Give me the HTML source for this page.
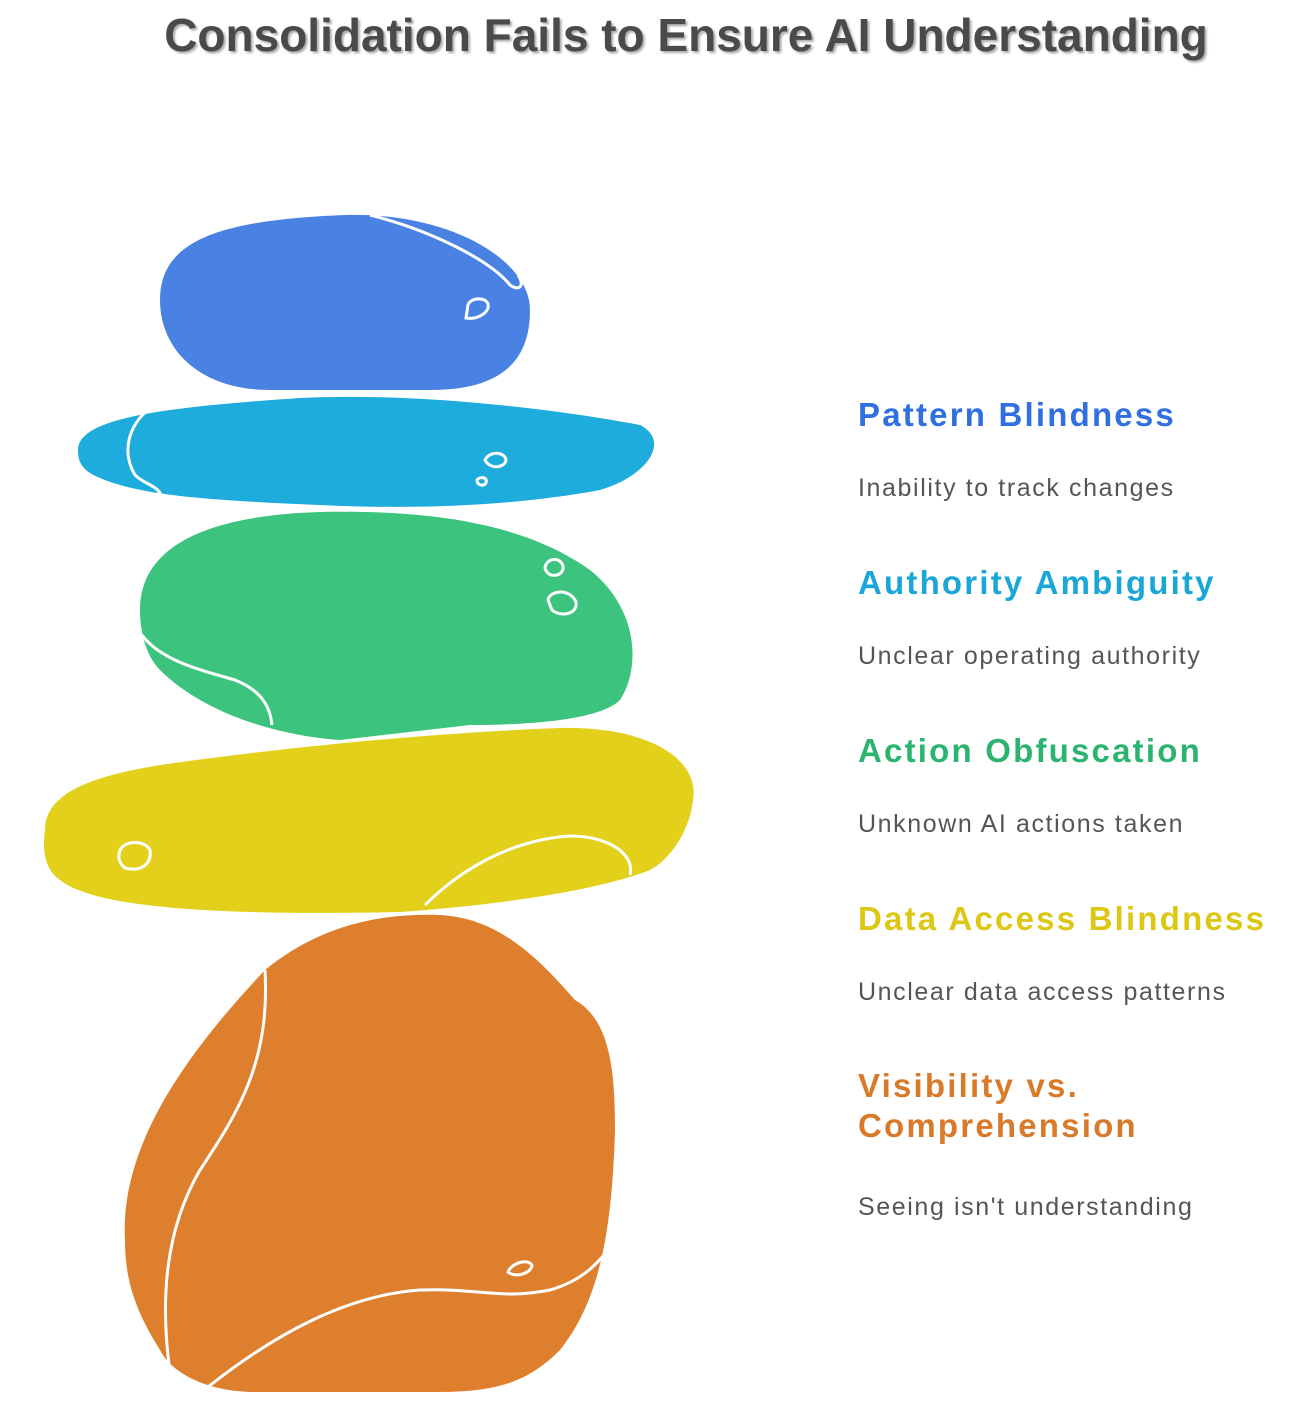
<!DOCTYPE html>
<html><head><meta charset="utf-8"><style>
body{margin:0;width:1314px;height:1422px;background:#fff;position:relative;font-family:"Liberation Sans",sans-serif;overflow:hidden}
.t{position:absolute;left:0;width:1314px;top:8px;text-align:center;font-size:46px;font-weight:bold;color:#4a4a4a;text-shadow:2px 2px 2px #aaa;padding-left:58px;box-sizing:border-box}
.h{position:absolute;left:858px;font-size:33px;font-weight:bold;line-height:40px;letter-spacing:2.2px;white-space:nowrap}
.d{position:absolute;left:858px;font-size:25px;color:#555;letter-spacing:1.6px;white-space:nowrap}
</style></head><body>
<div class="t">Consolidation Fails to Ensure AI Understanding</div>
<svg width="1314" height="1422" style="position:absolute;left:0;top:0">
<g stroke="#fff" stroke-width="3" fill="none">
<path fill="#4a82e4" stroke="none" d="M160,300 C160,240 220,220 345,215 C450,212 530,260 530,310 C530,370 490,390 430,390 L270,390 C200,390 160,350 160,300 Z"/>
<path d="M370,215 C430,230 490,260 510,285 C520,292 525,285 518,275"/>
<path d="M468,305 C470,298 485,296 488,304 C490,312 478,320 466,318 Z"/>
<path fill="#1eacdc" stroke="none" d="M78,450 C78,420 150,408 300,398 C420,392 560,410 640,425 C670,440 650,475 600,490 C520,505 420,510 320,505 C200,500 140,495 100,478 C80,470 78,460 78,450Z"/>
<path d="M155,405 C130,420 120,450 135,475 C145,485 158,485 162,497"/>
<path d="M485,460 C490,450 505,452 506,460 C505,468 490,470 485,460Z M477,480 C480,476 488,477 486,483 C483,487 477,485 477,480Z"/>
<path fill="#3cc47f" stroke="none" d="M140,610 C140,540 220,515 320,512 C420,510 520,520 590,570 C640,610 640,670 620,700 C600,720 530,725 470,725 L340,740 C270,735 200,710 160,670 C145,655 140,630 140,610Z"/>
<path d="M142,635 C160,660 200,670 235,680 C260,690 270,705 272,725"/>
<path d="M545,568 C546,558 560,556 563,566 C565,576 548,580 545,568Z M548,600 C550,590 570,588 576,602 C578,615 560,617 552,610Z"/>
<path fill="#e3d01a" stroke="none" d="M45,830 C45,790 100,775 160,765 C300,745 450,732 560,728 C650,726 700,760 693,800 C690,830 670,860 650,870 C600,890 500,905 400,912 C250,915 100,912 60,880 C45,870 42,850 45,830Z"/>
<path d="M425,905 C460,870 510,840 570,836 C610,836 635,855 630,875"/>
<path d="M120,850 C125,840 145,840 150,850 C152,865 140,872 125,868 C118,862 118,856 120,850Z"/>
<path fill="#de7f2e" stroke="none" d="M125,1240 C120,1150 180,1060 265,970 C320,925 380,913 440,915 C500,918 540,960 575,1000 C610,1020 615,1070 615,1130 C612,1230 600,1300 560,1350 C530,1380 500,1392 440,1392 L250,1392 C200,1390 170,1370 160,1350 C135,1310 125,1280 125,1240Z"/>
<path d="M265,970 C270,1060 240,1110 200,1170 C165,1230 160,1300 170,1372"/>
<path d="M208,1387 C280,1330 350,1295 420,1290 C480,1288 500,1300 550,1290 C585,1280 600,1260 610,1248"/>
<path d="M508,1272 C512,1262 530,1258 532,1266 C530,1274 515,1278 508,1272Z"/>
</g>
</svg>
<div class="h" style="top:395px;color:#2f6fdf">Pattern Blindness</div>
<div class="d" style="top:474px">Inability to track changes</div>
<div class="h" style="top:563px;color:#1ba6d8">Authority Ambiguity</div>
<div class="d" style="top:642px">Unclear operating authority</div>
<div class="h" style="top:731px;color:#2bb46f">Action Obfuscation</div>
<div class="d" style="top:810px">Unknown AI actions taken</div>
<div class="h" style="top:899px;color:#dcc814">Data Access Blindness</div>
<div class="d" style="top:978px">Unclear data access patterns</div>
<div class="h" style="top:1066px;color:#d87a2a">Visibility vs.<br>Comprehension</div>
<div class="d" style="top:1193px">Seeing isn't understanding</div>
</body></html>
